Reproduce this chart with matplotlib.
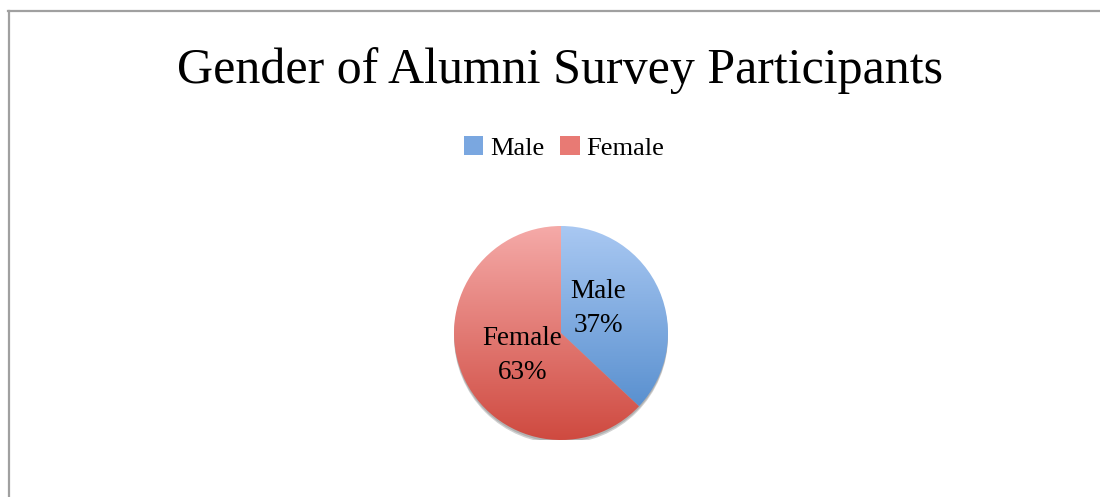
import numpy as np
import matplotlib
matplotlib.use("Agg")
import matplotlib.pyplot as plt
from matplotlib.colors import LinearSegmentedColormap
from matplotlib.patches import Ellipse
from matplotlib.lines import Line2D

title = "Gender of Alumni Survey Participants"
categories = ["Male", "Female"]
values = [37, 63]
top_colors = ["#a9c8f2", "#f5aaa8"]
bottom_colors = ["#4b86c9", "#cf4a40"]

W, H = 1100, 497
fig = plt.figure(figsize=(W / 100, H / 100), dpi=100)
fig.patch.set_facecolor("white")
FONT = ["Liberation Serif", "DejaVu Serif"]

# border (top and left only)
fig.add_artist(Line2D([8 / W, 1], [1 - 10.5 / H, 1 - 10.5 / H], color="#a0a0a0", lw=1.6))
fig.add_artist(Line2D([8.5 / W, 8.5 / W], [0, 1 - 10.5 / H], color="#a0a0a0", lw=1.6))

fig.text(560 / W, 1 - 71 / H, title, ha="center", va="center", fontsize=36, family=FONT, color="#000000")

# pie axes
cx, cy, r = 561, 333, 107
ax = fig.add_axes([(cx - r) / W, (H - cy - r) / H, 2 * r / W, 2 * r / H])
ax.set_xlim(-1, 1)
ax.set_ylim(-1, 1)
ax.set_aspect("equal")
ax.axis("off")

# shadow
ax.add_patch(Ellipse((0.0, -0.035), 2.0, 2.0, facecolor="#000000", alpha=0.18, zorder=0))
ax.add_patch(Ellipse((0.0, -0.02), 2.0, 2.0, facecolor="#000000", alpha=0.15, zorder=0))

wedges, _ = ax.pie(values, startangle=90, counterclock=False, radius=1,
                   colors=["none", "none"], wedgeprops=dict(linewidth=0))
grad = np.linspace(0, 1, 256).reshape(-1, 1)
for w, c0, c1 in zip(wedges, top_colors, bottom_colors):
    w.set_zorder(2)
    cmap = LinearSegmentedColormap.from_list("g", [c0, c1])
    im = ax.imshow(grad, extent=[-1, 1, -1, 1], origin="upper", cmap=cmap,
                   aspect="auto", zorder=1, interpolation="bilinear")
    im.set_clip_path(w)
ax.set_xlim(-1, 1)
ax.set_ylim(-1, 1)

label_pos = [(0.35, 0.23), (-0.36, -0.21)]
for cat, v, (x, y) in zip(categories, values, label_pos):
    ax.text(x, y, f"{cat}\n{v}%", ha="center", va="center", fontsize=19.5,
            family=FONT, linespacing=1.5, zorder=3)

# legend
handles = [plt.Rectangle((0, 0), 1, 1, facecolor=c) for c in ["#7aa7e0", "#e87a74"]]
fig.legend(handles, categories, loc="center", bbox_to_anchor=(564 / W, 1 - 148 / H),
           ncol=2, frameon=False, prop=dict(family=FONT, size=19),
           handlelength=0.75, handleheight=0.75, handletextpad=0.25, columnspacing=0.6)

fig.savefig("out.png", dpi=100)
